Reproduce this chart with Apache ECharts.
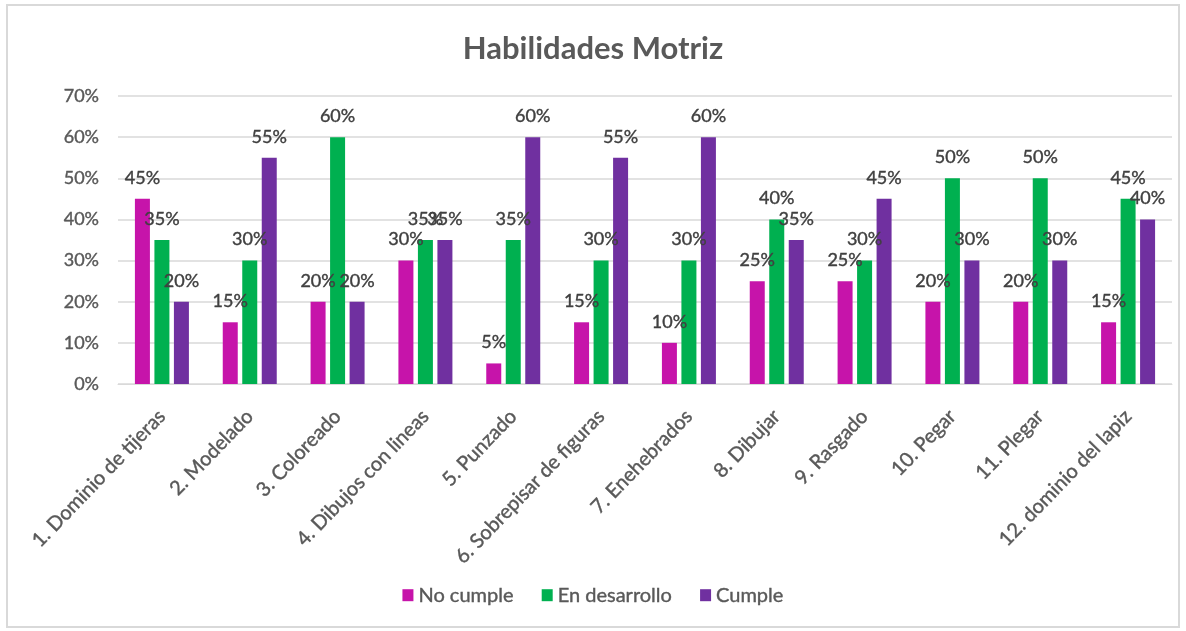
<!DOCTYPE html>
<html>
<head>
<meta charset="utf-8">
<title>Habilidades Motriz</title>
<script src="https://cdn.jsdelivr.net/npm/echarts@6/dist/echarts.min.js"></script>
<style>
  html, body { margin: 0; padding: 0; background: #fff; }
  #chart { width: 1186px; height: 631px; }
</style>
</head>
<body>
<div id="chart"></div>
<script>
const categories = [
  '1. Dominio de tijeras', '2. Modelado', '3. Coloreado', '4. Dibujos con lineas',
  '5. Punzado', '6. Sobrepisar de figuras', '7. Enehebrados', '8. Dibujar',
  '9. Rasgado', '10. Pegar', '11. Plegar', '12. dominio del lapiz'
];

const noCumple = [45, 15, 20, 30, 5, 15, 10, 25, 25, 20, 20, 15];
const enDesarrollo = [35, 30, 60, 35, 35, 30, 30, 40, 30, 50, 50, 45];
const cumple = [20, 55, 20, 35, 60, 55, 60, 35, 45, 30, 30, 40];

const yTicks = [0, 10, 20, 30, 40, 50, 60, 70];

const fontFamily = 'Lato, "Open Sans", sans-serif';
const chart = echarts.init(document.getElementById('chart'));

// thin outline on the text makes Lato look closer to the heavier Calibri of the original
function heavy(color) {
  return { color, textBorderColor: color, textBorderWidth: 0.4 };
}

function barSeries(name, data, color) {
  return {
    name,
    type: 'bar',
    data,
    barWidth: 15,
    barGap: '30%',
    itemStyle: { color },
    label: {
      show: true,
      position: 'top',
      distance: 12,
      formatter: '{c}%',
      fontSize: 18,
      fontFamily,
      ...heavy('#404040')
    }
  };
}

chart.setOption({
  animation: false,
  textStyle: { fontFamily },
  graphic: [{
    type: 'rect',
    shape: { x: 7, y: 5, width: 1172, height: 622 },
    style: { fill: 'none', stroke: '#d9d9d9', lineWidth: 2 },
    silent: true
  }],
  title: {
    text: 'Habilidades Motriz',
    left: 'center',
    top: 28,
    textStyle: { color: '#595959', fontSize: 31, fontWeight: 'bold', fontFamily }
  },
  legend: {
    top: 580,
    left: 'center',
    itemWidth: 11,
    itemHeight: 12,
    itemGap: 28,
    icon: 'rect',
    textStyle: { fontSize: 20, fontFamily, ...heavy('#595959') }
  },
  grid: { left: 118, right: 14, top: 96, bottom: 247 },
  xAxis: {
    type: 'category',
    data: categories,
    axisTick: { show: false },
    axisLine: { lineStyle: { color: '#d9d9d9' } },
    axisLabel: {
      rotate: 46,
      interval: 0,
      fontSize: 20,
      margin: 29,
      fontFamily,
      ...heavy('#595959')
    }
  },
  yAxis: {
    type: 'value',
    min: yTicks[0],
    max: yTicks[yTicks.length - 1],
    interval: 10,
    axisLabel: { formatter: '{value}%', fontSize: 18, margin: 19, fontFamily, ...heavy('#595959') },
    axisLine: { show: false },
    axisTick: { show: false },
    splitLine: { lineStyle: { color: '#d9d9d9', width: 1.5 } }
  },
  series: [
    barSeries('No cumple', noCumple, '#c614aa'),
    barSeries('En desarrollo', enDesarrollo, '#00b050'),
    barSeries('Cumple', cumple, '#7030a0')
  ]
});
</script>
</body>
</html>
